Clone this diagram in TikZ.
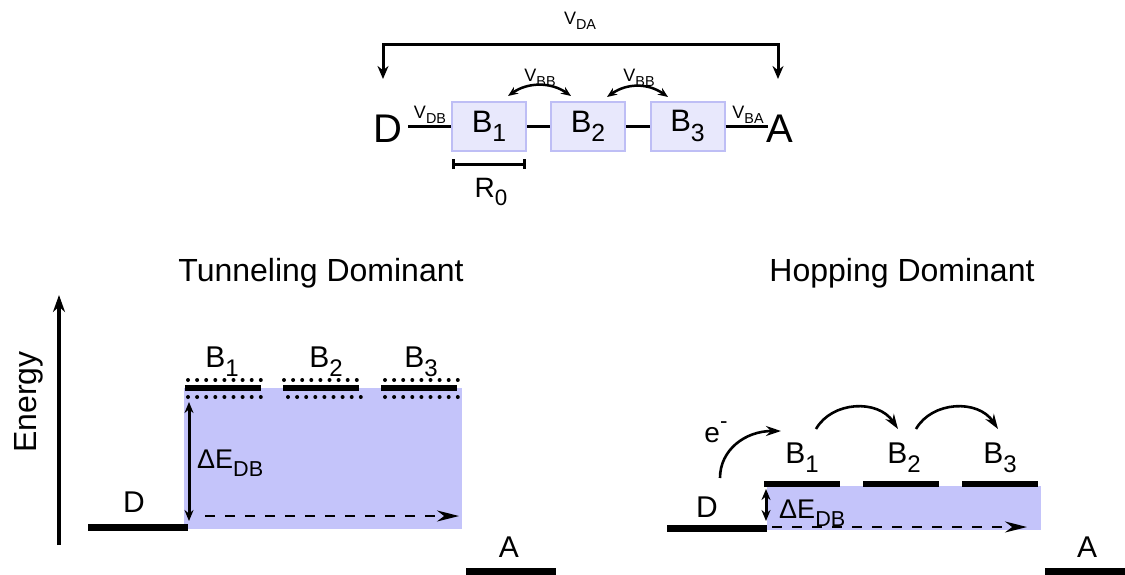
\documentclass[tikz,border=0pt]{standalone}
\usepackage{fontspec}
\setmainfont{Liberation Sans}
\usepackage{graphicx}
\usetikzlibrary{arrows.meta}
\newcommand\lo[1]{\raisebox{-0.3em}{\scalebox{0.8}{#1}}}
\newcommand\hi[1]{\raisebox{0.5em}{\scalebox{0.8}{#1}}}
\newcommand\fs[1]{\fontsize{#1}{#1}\selectfont}
\definecolor{boxfill}{RGB}{232,232,252}
\definecolor{boxline}{RGB}{190,190,245}
\definecolor{band}{RGB}{196,196,250}
\begin{document}
\begin{tikzpicture}[x=1pt,y=-1pt,
  txt/.style={inner sep=0pt,anchor=base},
  conn/.style={line width=3pt},
  bbox/.style={draw=boxline,fill=boxfill,line width=2pt,minimum width=74pt,minimum height=49pt,inner sep=0pt,font=\fs{31}},
  level/.style={line width=7pt},
  blevel/.style={line width=5.5pt},
  dotrow/.style={line width=4pt,line cap=round,dash pattern=on 0pt off 9.1pt},
  dbl/.style={line width=3pt,{Stealth[length=11pt,width=9pt]}-{Stealth[length=11pt,width=9pt]}},
  hop/.style={line width=2.6pt,-{Stealth[length=15pt,width=10pt]}},
  tun/.style={line width=2.4pt,dash pattern=on 10pt off 10pt,-{Stealth[length=22pt,width=11pt]}},
  vlab/.style={txt,font=\fs{18}},
  lvlab/.style={txt,font=\fs{30}},
  band/.style={fill=band}
]
\useasboundingbox (0,0) rectangle (1125,574);

% ---------------- top chain ----------------
\node[txt,font=\fs{40}] (D) at (388,142) {D};
\node[txt,font=\fs{40}] (A) at (780,142) {A};
\node[bbox] (B1) at (489,126) {B\lo{1}};
\node[bbox] (B2) at (588,126) {B\lo{2}};
\node[bbox] (B3) at (687.5,126) {B\lo{3}};
\coordinate (dR) at (408,126);
\coordinate (aL) at (768,126);
\draw[conn] (dR) -- (B1.west);
\draw[conn] (B1.east) -- (B2.west);
\draw[conn] (B2.east) -- (B3.west);
\draw[conn] (B3.east) -- (aL);
\node[vlab] (vdb) at (430,118) {V\lo{DB}};
\node[vlab] (vba) at (748,118) {V\lo{BA}};

\coordinate (dl) at (383,79);
\coordinate (dt) at (383,44);
\coordinate (at) at (778,44);
\coordinate (al) at (778,79);
\draw[line width=3pt,{Stealth[length=13pt,width=11pt]}-{Stealth[length=13pt,width=11pt]}] (dl) -- (dt) -- (at) -- (al);
\node[vlab] (vda) at (580,24) {V\lo{DA}};

\coordinate (b1r) at (508,96);
\coordinate (b2l) at (571,96);
\coordinate (b2r) at (607,97);
\coordinate (b3l) at (668,97);
\draw[line width=2.5pt,{Stealth[length=10pt,width=8pt]}-{Stealth[length=10pt,width=8pt]}] (b1r) .. controls (528,82) and (551,82) .. (b2l);
\draw[line width=2.5pt,{Stealth[length=10pt,width=8pt]}-{Stealth[length=10pt,width=8pt]}] (b2r) .. controls (627,83) and (648,83) .. (b3l);
\node[vlab] (vbb1) at (540,81) {V\lo{BB}};
\node[vlab] (vbb2) at (639,81) {V\lo{BB}};

\coordinate (r0a) at (452,164);
\coordinate (r0b) at (526,164);
\draw[line width=3pt,{Bar[width=10pt]}-{Bar[width=10pt]}] (r0a) -- (r0b);
\node[txt,font=\fs{28}] (r0) at (491,197) {R\lo{0}};

% ---------------- titles ----------------
\node[txt,font=\fs{32}] (t1) at (321,281) {Tunneling Dominant};
\node[txt,font=\fs{32}] (t2) at (902,281) {Hopping Dominant};

% ---------------- energy axis ----------------
\coordinate (ax0) at (59,545);
\coordinate (ax1) at (59,295);
\draw[line width=3.2pt,-{Stealth[length=17pt,width=12pt]}] (ax0) -- (ax1);
\node[txt,font=\fs{32},rotate=90] (en) at (36,402) {Energy};

% ---------------- tunneling panel ----------------
\fill[band] (184,388) rectangle (462,529);
\coordinate (ld0) at (88,527.5);  \coordinate (ld1) at (188,527.5);
\draw[level] (ld0) -- (ld1);
\coordinate (la0) at (466,571);   \coordinate (la1) at (556,571);
\draw[level] (la0) -- (la1);
\draw[blevel] (185,388) -- (261,388);
\draw[blevel] (283,388) -- (359,388);
\draw[blevel] (381,388) -- (457,388);
\draw[dotrow] (188,380) -- (261,380);
\draw[dotrow] (284,380) -- (357,380);
\draw[dotrow] (385,380) -- (458,380);
\draw[dotrow] (188,397) -- (261,397);
\draw[dotrow] (288,397) -- (361,397);
\draw[dotrow] (385,397) -- (458,397);
\node[lvlab] (tb1) at (222,367) {B\lo{1}};
\node[lvlab] (tb2) at (326,367) {B\lo{2}};
\node[lvlab] (tb3) at (421,367) {B\lo{3}};
\node[txt,font=\fs{30}] (tD) at (134,512) {D};
\node[txt,font=\fs{30}] (tA) at (509,557) {A};
\coordinate (te0) at (189,402); \coordinate (te1) at (189,521);
\draw[dbl] (te0) -- (te1);
\node[txt,anchor=base west,font=\fs{27}] (tde) at (197,468) {ΔE\lo{DB}};
\coordinate (tt0) at (205,516); \coordinate (tt1) at (459,516);
\draw[tun] (tt0) -- (tt1);

% ---------------- hopping panel ----------------
\fill[band] (767,486) rectangle (1041,530);
\coordinate (rd0) at (667,528); \coordinate (rd1) at (767,528);
\draw[level] (rd0) -- (rd1);
\coordinate (ra0) at (1045,571); \coordinate (ra1) at (1125,571);
\draw[level] (ra0) -- (ra1);
\draw[blevel] (764,484) -- (840,484);
\draw[blevel] (863,484) -- (939,484);
\draw[blevel] (962,484) -- (1038,484);
\node[lvlab] (hb1) at (802,463) {B\lo{1}};
\node[lvlab] (hb2) at (904,463) {B\lo{2}};
\node[lvlab] (hb3) at (1000,463) {B\lo{3}};
\node[txt,font=\fs{30}] (hD) at (707,517) {D};
\node[txt,font=\fs{30}] (hA) at (1087,557) {A};
\node[txt,font=\fs{28}] (el) at (716,442) {e\hi{-}};
\coordinate (e0) at (720,478); \coordinate (e1) at (781,431);
\draw[hop] (e0) .. controls (720,450) and (745,431) .. (e1);
\coordinate (h10) at (816,429); \coordinate (h11) at (898,429);
\draw[hop] (h10) .. controls (832,401) and (878,399) .. (h11);
\coordinate (h20) at (916,429); \coordinate (h21) at (998,429);
\draw[hop] (h20) .. controls (932,401) and (978,399) .. (h21);
\coordinate (he0) at (766,489); \coordinate (he1) at (766,521);
\draw[dbl] (he0) -- (he1);
\node[txt,anchor=base west,font=\fs{27}] (hde) at (779,518) {ΔE\lo{DB}};
\coordinate (ht0) at (772,527); \coordinate (ht1) at (1027,527);
\draw[tun] (ht0) -- (ht1);
\end{tikzpicture}
\end{document}
